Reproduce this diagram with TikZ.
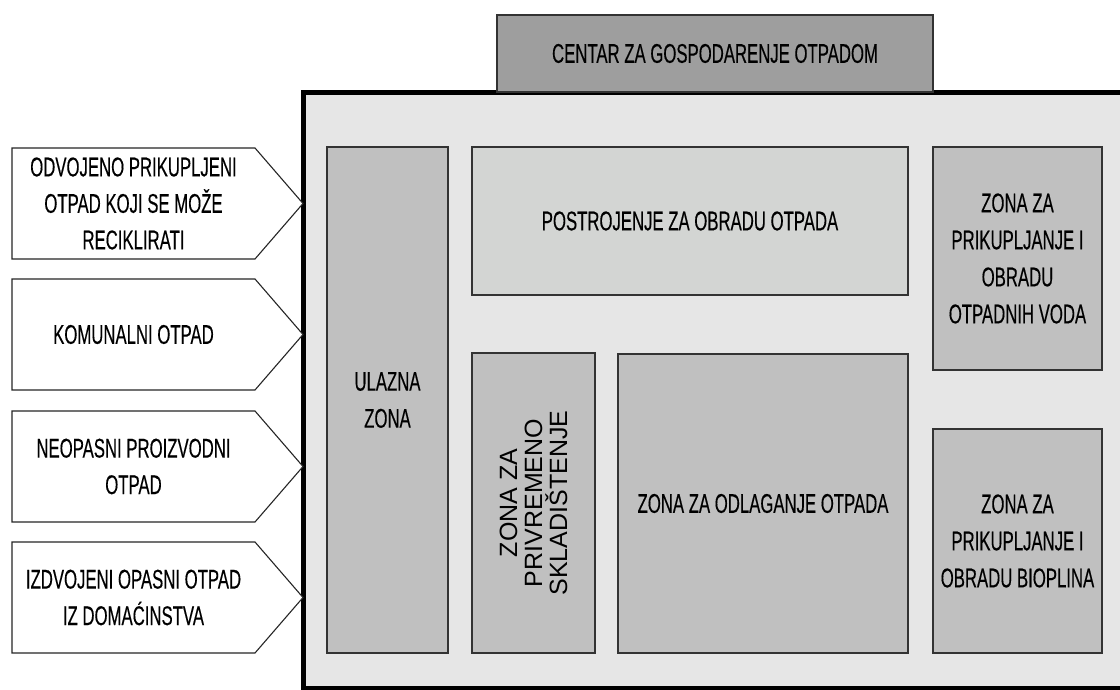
\documentclass[tikz,border=0pt]{standalone}
\usepackage{fontspec}
\setmainfont{Liberation Sans}[FakeStretch=0.62,FakeBold=0.3]
\newfontfamily\upfont{Liberation Sans}

\definecolor{framegray}{HTML}{E6E6E6}
\definecolor{zonegray}{HTML}{C0C0C0}
\definecolor{plantgray}{HTML}{D3D5D3}
\definecolor{centergray}{HTML}{9E9E9E}

\tikzset{
  zone/.style={draw=black!80, line width=1.4pt, fill=zonegray, align=center,
    text=black, inner sep=0pt, font=\fontsize{27}{37}\selectfont},
  inbox/.style={draw=black!85, line width=1.1pt, fill=white},
  intxt/.style={align=center, text=black, inner sep=0pt,
    font=\fontsize{27}{36.5}\selectfont}
}

\begin{document}
\begin{tikzpicture}[x=1pt,y=-1pt]
  \useasboundingbox (0,0) rectangle (1120,690);
  \fill[white] (0,0) rectangle (1120,690);
  % main frame
  \draw[line width=5.5pt, fill=framegray] (1135,92.5) -- (303.5,92.5) -- (303.5,688.5) -- (1135,688.5);
  % centre label on top
  \node[zone, fill=centergray, line width=1.1pt, minimum width=436pt, minimum height=77pt]
    (centar) at (715,53.5) {CENTAR ZA GOSPODARENJE OTPADOM};
  % incoming waste
  \foreach \y/\txt [count=\i] in {148/{ODVOJENO PRIKUPLJENI\\OTPAD KOJI SE MOŽE\\RECIKLIRATI},
      279/{KOMUNALNI OTPAD},
      411/{NEOPASNI PROIZVODNI\\OTPAD},
      542/{IZDVOJENI OPASNI OTPAD\\IZ DOMAĆINSTVA}} {
    \draw[inbox] (12,\y) -- (255,\y) -- (303,\y+55.5) -- (255,\y+111) -- (12,\y+111) -- cycle;
    \node[intxt] (ulaz\i) at (133.5,\y+55.5) {\txt};
  }
  % zones
  \node[zone, minimum width=121pt, minimum height=506pt] (ulazna) at (387.5,400) {ULAZNA\\ZONA};
  \node[zone, fill=plantgray, minimum width=436pt, minimum height=148pt] (postrojenje) at (690,221)
    {POSTROJENJE ZA OBRADU OTPADA};
  \node[zone, minimum width=169pt, minimum height=223pt] (vode) at (1017.5,258.5)
    {ZONA ZA\\PRIKUPLJANJE I\\OBRADU\\OTPADNIH VODA};
  \node[zone, rotate=90, minimum width=300pt, minimum height=123pt,
    font=\upfont\fontsize{25}{25}\selectfont] (skladiste) at (533.5,503)
    {ZONA ZA\\PRIVREMENO\\SKLADIŠTENJE};
  \node[zone, minimum width=290pt, minimum height=299pt] (odlaganje) at (763,503.5)
    {ZONA ZA ODLAGANJE OTPADA};
  \node[zone, minimum width=169pt, minimum height=224pt] (bioplin) at (1017.5,541)
    {ZONA ZA\\PRIKUPLJANJE I\\OBRADU BIOPLINA};
\end{tikzpicture}
\end{document}
